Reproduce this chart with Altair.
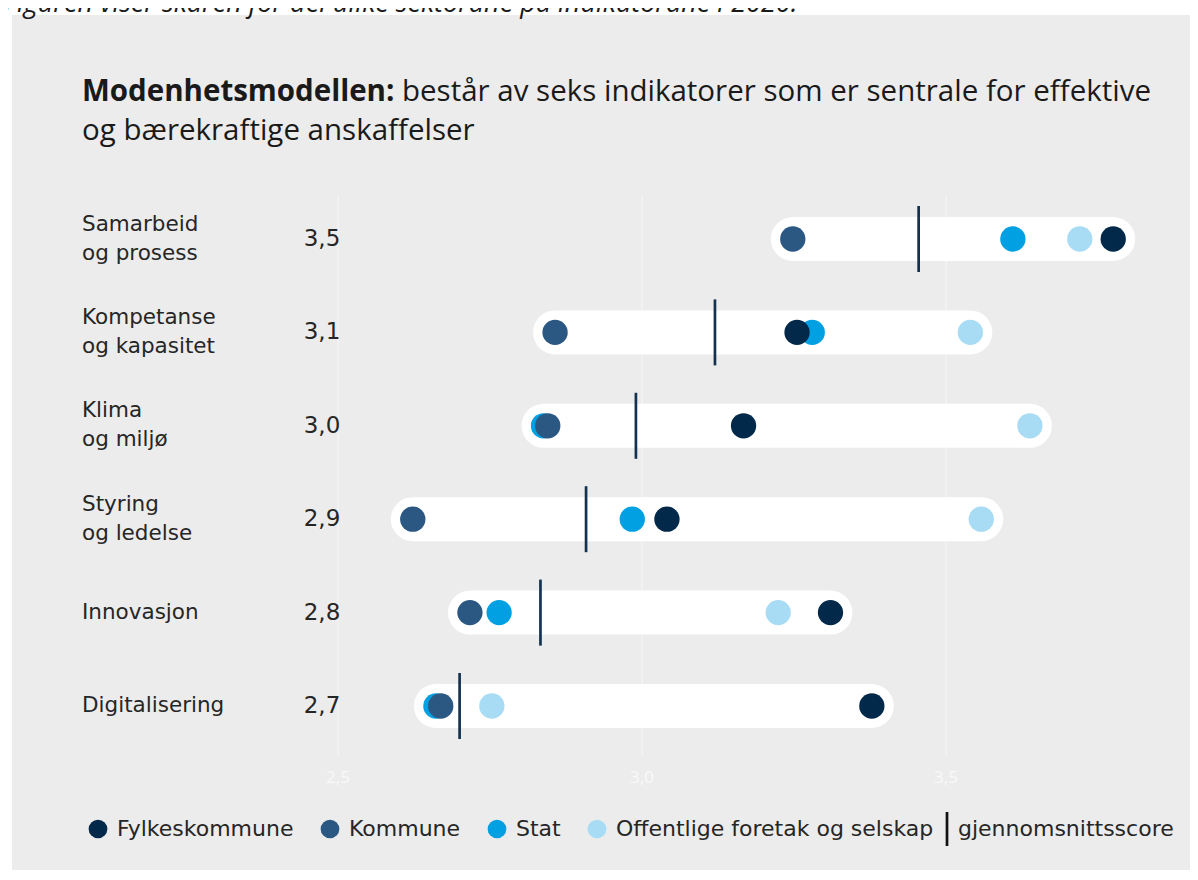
import altair as alt
import pandas as pd

# ---------------- data ----------------
caption = "Figuren viser skåren for dei ulike sektorane på indikatorane i 2020."
title_bold = "Modenhetsmodellen:"
title_rest = "består av seks indikatorer som er sentrale for effektive"
title_line2 = "og bærekraftige anskaffelser"

indicators = ["Samarbeid og prosess", "Kompetanse og kapasitet", "Klima og miljø",
              "Styring og ledelse", "Innovasjon", "Digitalisering"]
label_line1 = ["Samarbeid", "Kompetanse", "Klima", "Styring", "Innovasjon", "Digitalisering"]
label_line2 = ["og prosess", "og kapasitet", "og miljø", "og ledelse", "", ""]
average_labels = ["3,5", "3,1", "3,0", "2,9", "2,8", "2,7"]
average_scores = [3.455, 3.12, 2.99, 2.908, 2.833, 2.70]

sectors = ["Fylkeskommune", "Kommune", "Stat", "Offentlige foretak og selskap"]
sector_colors = ["#03294a", "#2b5783", "#00a0e2", "#a8dcf4"]
fylkeskommune = [3.775, 3.255, 3.167, 3.041, 3.31, 3.378]
kommune = [3.248, 2.857, 2.845, 2.623, 2.717, 2.669]
stat = [3.61, 3.28, 2.838, 2.984, 2.765, 2.661]
offentlige = [3.72, 3.54, 3.638, 3.558, 3.224, 2.753]

tick_values = [2.5, 3.0, 3.5]
tick_labels = ["2,5", "3,0", "3,5"]
avg_name = "gjennomsnittsscore"

# ---------------- tables ----------------
draw_order = [("Offentlige foretak og selskap", offentlige), ("Stat", stat),
              ("Kommune", kommune), ("Fylkeskommune", fylkeskommune)]
rows = []
for sector, vals in draw_order:
    for ind, v in zip(indicators, vals):
        rows.append({"indicator": ind, "sector": sector, "score": v})
scores_df = pd.DataFrame(rows)

ind_df = pd.DataFrame({"indicator": indicators, "line1": label_line1, "line2": label_line2,
                       "two": [l != "" for l in label_line2],
                       "avg": average_scores, "avg_label": average_labels,
                       "kind": [avg_name] * len(indicators)})
ticks_df = pd.DataFrame({"value": tick_values, "label": tick_labels})

# ---------------- layout ----------------
W, H = 1178, 855
PX_25, PX_PER_UNIT = 326, 608
x_domain = [2.5 - PX_25 / PX_PER_UNIT, 2.5 + (W - PX_25) / PX_PER_UNIT]
xscale = alt.Scale(domain=x_domain, nice=False, zero=False)
yscale = alt.Scale(type="point", domain=indicators, range=[224, 691], padding=0)

TXT = "#262626"
LABEL_FONT = "DejaVu Sans"

def X(field):
    return alt.X(field, scale=xscale, axis=None)

Y = alt.Y("indicator:N", scale=yscale, axis=None)

grid = alt.Chart(ticks_df).mark_rule(color="#f7f7f7", strokeWidth=1).encode(
    x=X("value:Q"), y=alt.value(180), y2=alt.value(740))

tick_text = alt.Chart(ticks_df).mark_text(
    font="Open Sans", fontSize=17, color="#f9f9f9", baseline="middle").encode(
    x=X("value:Q"), y=alt.value(763), text="label:N")

pills = alt.Chart(scores_df).transform_aggregate(
    lo="min(score)", hi="max(score)", groupby=["indicator"]).mark_rule(
    color="white", strokeWidth=44, strokeCap="round").encode(
    x=X("lo:Q"), x2="hi:Q", y=Y)

legend_common = dict(orient="none", title=None, padding=0, labelLimit=0,
                     labelFont=LABEL_FONT, labelFontSize=22, labelColor=TXT)

dots = alt.Chart(scores_df).mark_circle(size=640, opacity=1).encode(
    x=X("score:Q"), y=Y,
    color=alt.Color("sector:N", scale=alt.Scale(domain=sectors, range=sector_colors),
                    legend=alt.Legend(legendX=75, legendY=803,
                                      direction="horizontal", columns=4,
                                      symbolType="circle", symbolSize=350,
                                      symbolStrokeWidth=0, symbolOpacity=1,
                                      labelOffset=8, columnPadding=25,
                                      **legend_common)))

avg = alt.Chart(ind_df).mark_point(
    filled=False, strokeWidth=2.7, size=1089, color="#13324f", opacity=1).encode(
    x=X("avg:Q"), y=Y,
    shape=alt.Shape("kind:N", scale=alt.Scale(domain=[avg_name], range=["M0,-2L0,2"]),
                    legend=alt.Legend(legendX=924, legendY=803,
                                      symbolSize=289, symbolStrokeColor="#111111",
                                      symbolStrokeWidth=2.7, labelOffset=0,
                                      **legend_common)))

label_style = dict(align="left", baseline="middle", font=LABEL_FONT, fontSize=21.5, color=TXT)

lab_single = alt.Chart(ind_df).transform_filter("!datum.two").mark_text(**label_style).encode(
    x=alt.value(70), y=Y, text="line1:N")
lab_first = alt.Chart(ind_df).transform_filter("datum.two").mark_text(dy=-14.5, **label_style).encode(
    x=alt.value(70), y=Y, text="line1:N")
lab_second = alt.Chart(ind_df).transform_filter("datum.two").mark_text(dy=14.5, **label_style).encode(
    x=alt.value(70), y=Y, text="line2:N")

val_text = alt.Chart(ind_df).mark_text(
    align="center", baseline="middle", font=LABEL_FONT, fontSize=23, color=TXT).encode(
    x=alt.value(310), y=Y, text="avg_label:N")

def note(text, x, y, **kw):
    return alt.Chart(pd.DataFrame({"t": [text]})).mark_text(
        align="left", baseline="alphabetic", color="#1a1a1a", **kw).encode(
        x=alt.value(x), y=alt.value(y), text="t:N")

t1 = note(title_bold, 70, 86, font="Open Sans", fontSize=29.5, fontWeight="bold")
t2 = note(title_rest, 390, 86, font="Open Sans", fontSize=29.5)
t3 = note(title_line2, 70, 125, font="Open Sans", fontSize=29.5)
cap = note(caption, -8, -3, font="Open Sans", fontSize=27, fontStyle="italic")

chart = alt.layer(grid, tick_text, pills, dots, avg, lab_single, lab_first, lab_second,
                  val_text, t1, t2, t3, cap).properties(
    width=W, height=H,
    autosize=alt.AutoSizeParams(type="none"),
    padding={"left": 4, "top": 7, "right": 0, "bottom": 0},
    background="white",
).configure_view(fill="#ececec", stroke=None)

chart.save("out.html", embed_options={"renderer": "svg", "actions": False})
